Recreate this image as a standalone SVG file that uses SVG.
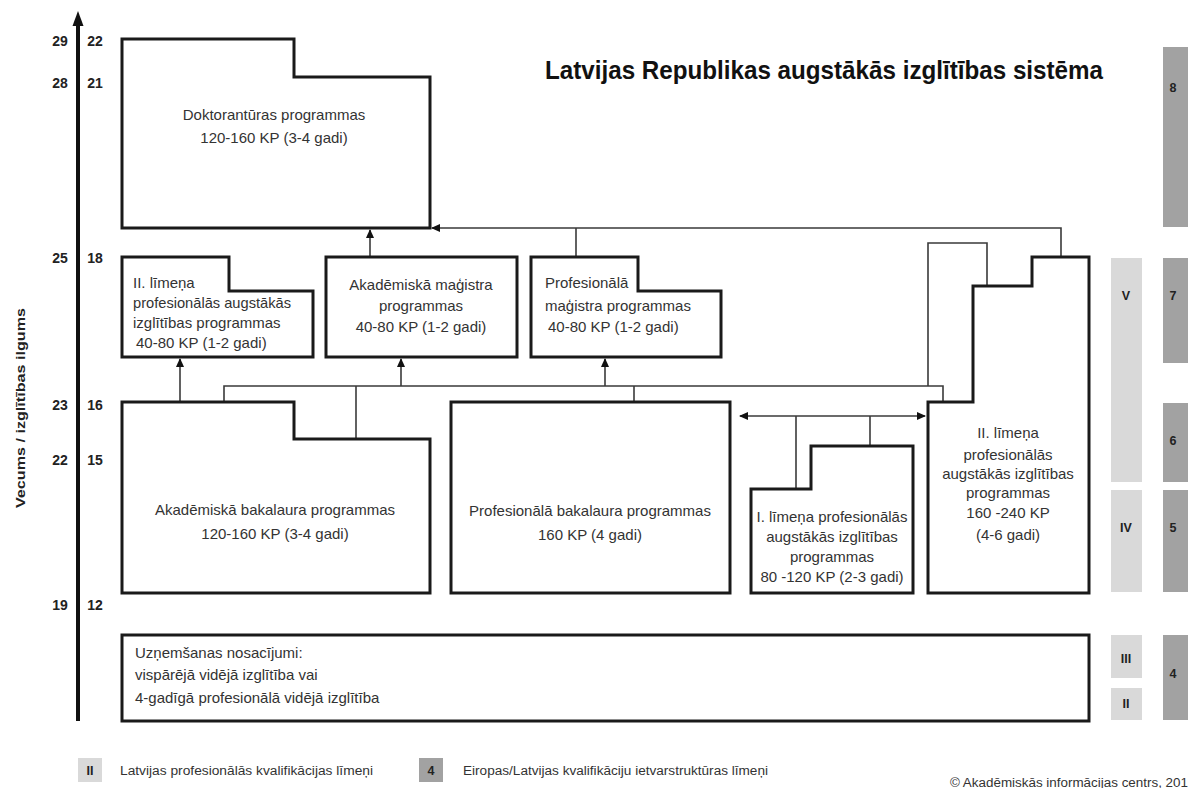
<svg xmlns="http://www.w3.org/2000/svg" width="1188" height="788" viewBox="0 0 1188 788">
<defs>
<marker id="ah" markerUnits="userSpaceOnUse" markerWidth="9" markerHeight="8" refX="8" refY="4" orient="auto-start-reverse">
<path d="M0,0 L9,4 L0,8 z" fill="#111"/>
</marker>
<style>
.box{fill:#fff;stroke:#1a1a1a;stroke-width:3;stroke-linejoin:miter}
.con{fill:none;stroke:#3a3a3a;stroke-width:1.6}
.t{font-family:"Liberation Sans",Arial,sans-serif;font-size:15px;fill:#333}
.tc{text-anchor:middle}
.ax{font-family:"Liberation Sans",Arial,sans-serif;font-size:14px;font-weight:bold;fill:#222;text-anchor:middle}
.lv{font-family:"Liberation Sans",Arial,sans-serif;font-size:12.5px;font-weight:bold;fill:#222;text-anchor:middle}
.lg{font-family:"Liberation Sans",Arial,sans-serif;font-size:12.5px;fill:#333}
.dk{fill:#a2a2a2}
.lt{fill:#d9d9d9}
</style>
</defs>
<rect width="1188" height="788" fill="#fff"/>

<g id="title">
<text x="545" y="79" font-family="Liberation Sans,Arial,sans-serif" font-size="26" font-weight="bold" fill="#111" textLength="558" lengthAdjust="spacingAndGlyphs">Latvijas Republikas augstākās izglītības sistēma</text>
</g>

<g id="axis">
<line x1="78" y1="24" x2="78" y2="721" stroke="#111" stroke-width="4"/>
<path d="M78,11 L83.5,26 L72.5,26 z" fill="#111"/>
<text class="ax" x="60" y="46">29</text><text class="ax" x="95" y="46">22</text>
<text class="ax" x="60" y="88">28</text><text class="ax" x="95" y="88">21</text>
<text class="ax" x="60" y="263">25</text><text class="ax" x="95" y="263">18</text>
<text class="ax" x="60" y="410">23</text><text class="ax" x="95" y="410">16</text>
<text class="ax" x="60" y="465">22</text><text class="ax" x="95" y="465">15</text>
<text class="ax" x="60" y="610">19</text><text class="ax" x="95" y="610">12</text>
<text x="0" y="0" transform="translate(25,408) rotate(-90)" font-family="Liberation Sans,Arial,sans-serif" font-size="12.5" font-weight="bold" fill="#222" text-anchor="middle" textLength="200" lengthAdjust="spacingAndGlyphs">Vecums / izglītības ilgums</text>
</g>

<g id="connectors">
<line class="con" x1="180" y1="402" x2="180" y2="359" marker-end="url(#ah)"/>
<line class="con" x1="401" y1="386" x2="401" y2="359" marker-end="url(#ah)"/>
<line class="con" x1="605" y1="386" x2="605" y2="359" marker-end="url(#ah)"/>
<line class="con" x1="370" y1="257" x2="370" y2="230" marker-end="url(#ah)"/>
<path class="con" d="M1061,257 L1061,228 L432,228" marker-end="url(#ah)"/>
<line class="con" x1="576" y1="228" x2="576" y2="257"/>
<path class="con" d="M224,402 L224,386 L943,386 L943,402"/>
<line class="con" x1="356" y1="386" x2="356" y2="439"/>
<line class="con" x1="634" y1="386" x2="634" y2="402"/>
<path class="con" d="M928,386 L928,243 L987,243 L987,286"/>
<line class="con" x1="740" y1="416" x2="925" y2="416" marker-start="url(#ah)" marker-end="url(#ah)"/>
<line class="con" x1="796" y1="416" x2="796" y2="489"/>
<line class="con" x1="870" y1="416" x2="870" y2="446"/>
</g>

<g id="doktorantura">
<path class="box" d="M122,39 L294,39 L294,77 L430,77 L430,228 L122,228 z"/>
<text class="t tc" x="274" y="120">Doktorantūras programmas</text>
<text class="t tc" x="274" y="143">120-160 KP (3-4 gadi)</text>
</g>

<g id="prof-2-limena-magistra">
<path class="box" d="M122,257 L229,257 L229,291 L313,291 L313,357 L122,357 z"/>
<text class="t" x="133" y="288" font-size="14">II. līmeņa</text>
<text class="t" x="133" y="308" font-size="14" textLength="158" lengthAdjust="spacingAndGlyphs">profesionālās augstākās</text>
<text class="t" x="133" y="328" font-size="14">izglītības programmas</text>
<text class="t" x="136" y="348" font-size="14">40-80 KP (1-2 gadi)</text>
</g>

<g id="akademiska-magistra">
<rect class="box" x="326" y="257" width="191" height="100"/>
<text class="t tc" x="421" y="290">Akadēmiskā maģistra</text>
<text class="t tc" x="421" y="311">programmas</text>
<text class="t tc" x="421" y="332">40-80 KP (1-2 gadi)</text>
</g>

<g id="profesionala-magistra">
<path class="box" d="M531,257 L638,257 L638,291 L721,291 L721,357 L531,357 z"/>
<text class="t" x="545" y="288">Profesionālā</text>
<text class="t" x="545" y="311">maģistra programmas</text>
<text class="t" x="548" y="332">40-80 KP (1-2 gadi)</text>
</g>

<g id="akademiska-bakalaura">
<path class="box" d="M122,402 L294,402 L294,439 L430,439 L430,593 L122,593 z"/>
<text class="t tc" x="275" y="515">Akadēmiskā bakalaura programmas</text>
<text class="t tc" x="275" y="539">120-160 KP (3-4 gadi)</text>
</g>

<g id="profesionala-bakalaura">
<rect class="box" x="451" y="402" width="279" height="191"/>
<text class="t tc" x="590" y="516">Profesionālā bakalaura programmas</text>
<text class="t tc" x="590" y="540">160 KP (4 gadi)</text>
</g>

<g id="prof-1-limena">
<path class="box" d="M751,489 L811,489 L811,446 L913,446 L913,593 L751,593 z"/>
<text class="t tc" x="832" y="522">I. līmeņa profesionālās</text>
<text class="t tc" x="832" y="542">augstākās izglītības</text>
<text class="t tc" x="832" y="562">programmas</text>
<text class="t tc" x="832" y="582">80 -120 KP (2-3 gadi)</text>
</g>

<g id="prof-2-limena">
<path class="box" d="M928,402 L973,402 L973,286 L1032,286 L1032,257 L1089,257 L1089,593 L928,593 z"/>
<text class="t tc" x="1008" y="438">II. līmeņa</text>
<text class="t tc" x="1008" y="460">profesionālās</text>
<text class="t tc" x="1008" y="479">augstākās izglītības</text>
<text class="t tc" x="1008" y="498">programmas</text>
<text class="t tc" x="1008" y="518">160 -240 KP</text>
<text class="t tc" x="1008" y="540">(4-6 gadi)</text>
</g>

<g id="uznemsana">
<rect class="box" x="122" y="635" width="967" height="86"/>
<text class="t" x="135" y="658" font-size="14.5">Uzņemšanas nosacījumi:</text>
<text class="t" x="135" y="680" font-size="14.5">vispārējā vidējā izglītība  vai</text>
<text class="t" x="135" y="703" font-size="14.5">4-gadīgā profesionālā vidējā izglītība</text>
</g>

<g id="levels">
<rect class="dk" x="1163" y="47" width="25" height="180"/>
<text class="lv" x="1173" y="92">8</text>
<rect class="dk" x="1163" y="258" width="25" height="105"/>
<text class="lv" x="1173" y="300">7</text>
<rect class="dk" x="1163" y="403" width="25" height="79"/>
<text class="lv" x="1173" y="445">6</text>
<rect class="dk" x="1163" y="490" width="25" height="102"/>
<text class="lv" x="1173" y="532">5</text>
<rect class="dk" x="1163" y="635" width="25" height="85"/>
<text class="lv" x="1173" y="678">4</text>
<rect class="lt" x="1111" y="258" width="31" height="224"/>
<text class="lv" x="1126" y="300">V</text>
<rect class="lt" x="1111" y="490" width="31" height="102"/>
<text class="lv" x="1126" y="532">IV</text>
<rect class="lt" x="1111" y="635" width="31" height="43"/>
<text class="lv" x="1126" y="663">III</text>
<rect class="lt" x="1111" y="688" width="31" height="32"/>
<text class="lv" x="1126" y="708">II</text>
</g>

<g id="legend">
<rect class="lt" x="78" y="758" width="24" height="24"/>
<text class="lv" x="90" y="775">II</text>
<text class="lg" x="120" y="775" textLength="253" lengthAdjust="spacingAndGlyphs">Latvijas profesionālās kvalifikācijas līmeņi</text>
<rect class="dk" x="419" y="758" width="24" height="24"/>
<text class="lv" x="431" y="775">4</text>
<text class="lg" x="463" y="775" textLength="305" lengthAdjust="spacingAndGlyphs">Eiropas/Latvijas kvalifikāciju ietvarstruktūras līmeņi</text>
<text class="lg" x="950" y="787" font-size="11.5" textLength="238" lengthAdjust="spacingAndGlyphs">© Akadēmiskās informācijas centrs, 201</text>
</g>
</svg>
